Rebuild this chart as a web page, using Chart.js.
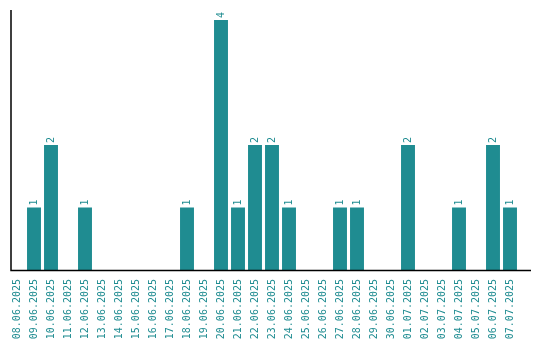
<!DOCTYPE html>
<html>
<head>
<meta charset="utf-8">
<script src="https://cdn.jsdelivr.net/npm/chart.js@4/dist/chart.umd.min.js"></script>
<style>
html,body{margin:0;padding:0;background:#fff;}
#wrap{width:540px;height:340px;position:relative;}
</style>
</head>
<body>
<div id="wrap"><canvas id="c" width="540" height="340"></canvas></div>
<script>
const categories = ["08.06.2025","09.06.2025","10.06.2025","11.06.2025","12.06.2025","13.06.2025","14.06.2025","15.06.2025","16.06.2025","17.06.2025","18.06.2025","19.06.2025","20.06.2025","21.06.2025","22.06.2025","23.06.2025","24.06.2025","25.06.2025","26.06.2025","27.06.2025","28.06.2025","29.06.2025","30.06.2025","01.07.2025","02.07.2025","03.07.2025","04.07.2025","05.07.2025","06.07.2025","07.07.2025"];
const counts = [0,1,2,0,1,0,0,0,0,0,1,0,4,1,2,2,1,0,0,1,1,0,0,2,0,0,1,0,2,1];

const TEAL = '#1f8c91';
const FONT = '"DejaVu Sans Mono", monospace';

const axisLines = {
  id: 'axisLines',
  afterDraw(chart) {
    const {ctx, chartArea} = chart;
    const y0 = chart.scales.y.getPixelForValue(0);
    ctx.save();
    ctx.strokeStyle = '#000';
    ctx.lineWidth = 1.5;
    ctx.beginPath();
    ctx.moveTo(11, chartArea.top);
    ctx.lineTo(11, y0 + 0.5);
    ctx.lineTo(531, y0 + 0.5);
    ctx.stroke();
    ctx.restore();
  }
};

const valueLabels = {
  id: 'valueLabels',
  afterDatasetsDraw(chart) {
    const {ctx} = chart;
    const meta = chart.getDatasetMeta(0);
    ctx.save();
    ctx.fillStyle = TEAL;
    ctx.font = '10px ' + FONT;
    ctx.textAlign = 'left';
    ctx.textBaseline = 'middle';
    meta.data.forEach((bar, i) => {
      const v = counts[i];
      if (!v) return;
      ctx.save();
      ctx.translate(bar.x, bar.y - 2);
      ctx.rotate(-Math.PI / 2);
      ctx.fillText(String(v), 0, 0);
      ctx.restore();
    });
    ctx.restore();
  }
};

new Chart(document.getElementById('c'), {
  type: 'bar',
  data: {
    labels: categories,
    datasets: [{
      data: counts,
      backgroundColor: TEAL,
      borderWidth: 0,
      categoryPercentage: 1,
      barPercentage: 0.82
    }]
  },
  options: {
    responsive: false,
    devicePixelRatio: 1,
    animation: false,
    layout: { padding: { left: 8.5, right: 21.5, top: 10, bottom: 0 } },
    plugins: { legend: { display: false }, tooltip: { enabled: false } },
    scales: {
      x: {
        grid: { display: false, drawTicks: false, tickLength: 0 },
        border: { display: false },
        ticks: {
          color: TEAL,
          font: { family: FONT, size: 10 },
          minRotation: 90,
          maxRotation: 90,
          autoSkip: false,
          padding: 9
        },
        afterFit(scale) { scale.height = 70; }
      },
      y: {
        display: false,
        min: 0,
        max: 4.16
      }
    }
  },
  plugins: [axisLines, valueLabels]
});
</script>
</body>
</html>
